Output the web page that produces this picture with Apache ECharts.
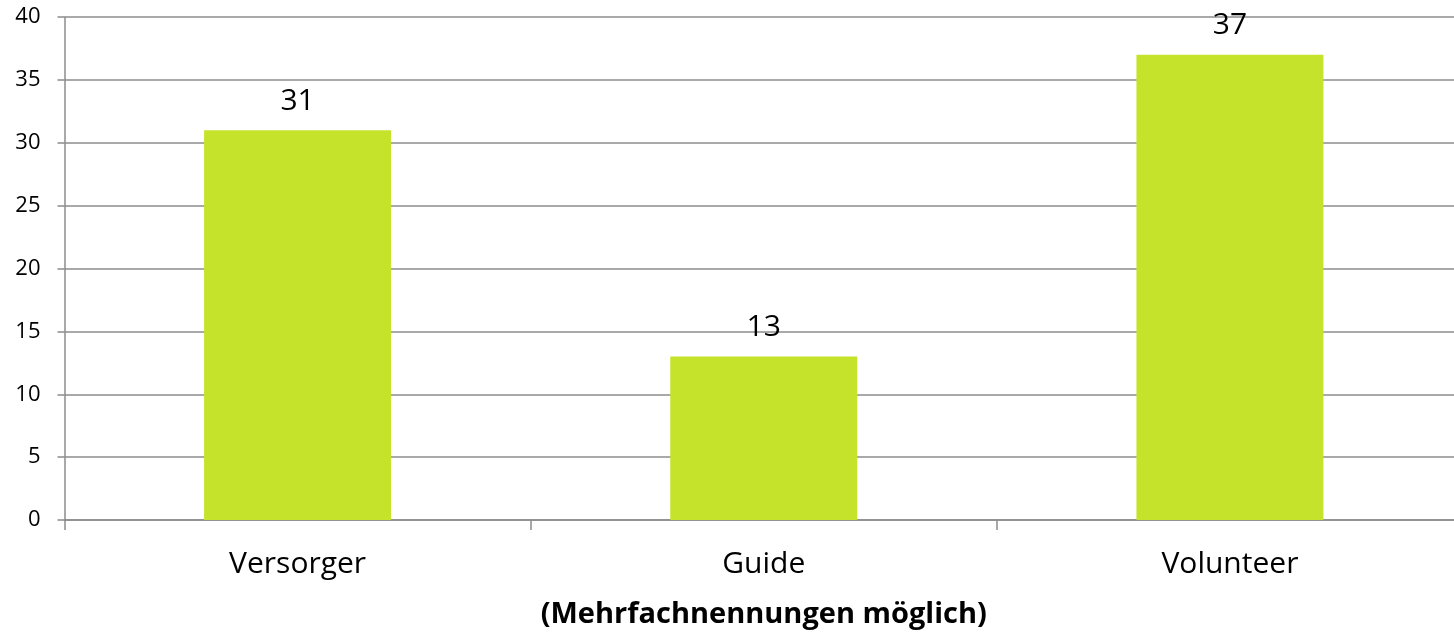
<!DOCTYPE html>
<html>
<head>
<meta charset="utf-8">
<script src="https://cdn.jsdelivr.net/npm/echarts@6/dist/echarts.min.js"></script>
<style>
	html, body { margin: 0; padding: 0; background: #fff; }
	#chart { width: 1454px; height: 632px; }
</style>
</head>
<body>
<div id="chart"></div>
<script>
	'use strict';

	// Kategorien und Werte
	var categories = ['Versorger', 'Guide', 'Volunteer'];
	var counts = [31, 13, 37];
	var axisTitle = '(Mehrfachnennungen möglich)';

	var font = '"Open Sans", Lato, sans-serif';
	var instance = echarts.init(document.getElementById('chart'), null, { renderer: 'canvas' });

	instance.setOption({
		animation: false,
		grid: { left: 64.5, right: -9, top: 17, bottom: 112, containLabel: false, outerBoundsMode: 'none' },
		xAxis: {
			type: 'category',
			data: categories,
			name: axisTitle,
			nameLocation: 'middle',
			nameGap: 80,
			nameTextStyle: { fontFamily: font, fontSize: 29, fontWeight: 'bold', color: '#000' },
			axisLine: { lineStyle: { color: '#8c8c8c', width: 1.5 } },
			axisTick: { show: true, length: 10, alignWithLabel: false, lineStyle: { color: '#8c8c8c', width: 1.5 } },
			axisLabel: { fontFamily: font, fontSize: 30, color: '#000', margin: 29 }
		},
		yAxis: {
			type: 'value',
			min: 0,
			max: 40,
			interval: 5,
			axisLine: { show: true, lineStyle: { color: '#8c8c8c', width: 1.5 } },
			axisTick: { show: true, length: 7, lineStyle: { color: '#8c8c8c', width: 1.5 } },
			axisLabel: { fontFamily: font, fontSize: 22, color: '#000', margin: 24 },
			splitLine: { lineStyle: { color: '#8c8c8c', width: 1.5 } }
		},
		series: [{
			type: 'bar',
			data: counts,
			barWidth: 187,
			itemStyle: { color: '#c6e32b' },
			label: {
				show: true,
				position: 'top',
				distance: 14,
				fontFamily: font,
				fontSize: 30,
				color: '#000'
			}
		}]
	});
</script>
</body>
</html>
